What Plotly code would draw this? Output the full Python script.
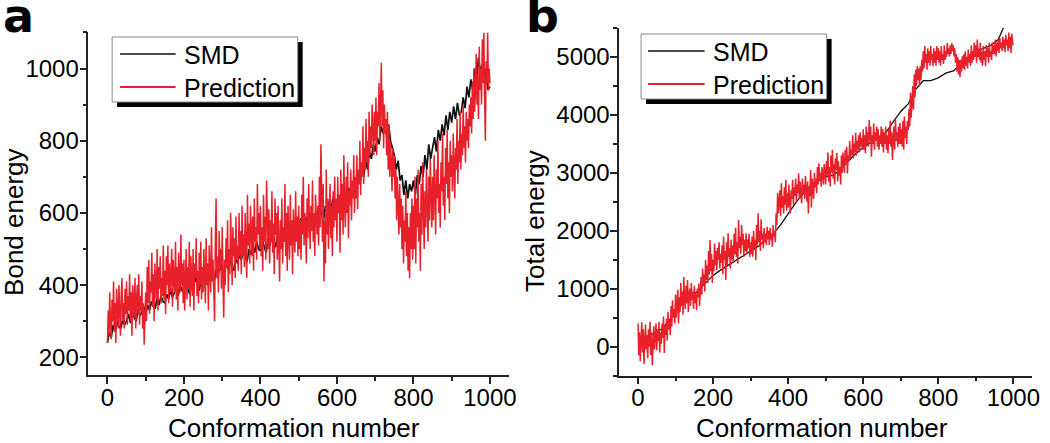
import plotly.graph_objs as go

W, H = 1050, 443

#### Data ##############################################################
# SMD bond energy, every 5th conformation
conf = list(range(0, 1001, 5))
bond_smd = [
    240, 270, 255, 290, 270, 300, 285, 280, 305, 290,
    300, 320, 295, 330, 310, 300, 335, 315, 325, 340,
    320, 345, 330, 355, 340, 335, 365, 345, 370, 355,
    350, 375, 360, 390, 365, 380, 395, 370, 400, 385,
    380, 405, 390, 375, 410, 395, 420, 400, 385, 415,
    405, 425, 410, 440, 420, 435, 415, 445, 430, 455,
    440, 430, 460, 445, 470, 450, 440, 475, 460, 485,
    470, 495, 480, 465, 500, 485, 510, 490, 520, 500,
    495, 525, 505, 490, 530, 510, 540, 520, 505, 545,
    530, 555, 535, 520, 560, 545, 570, 550, 580, 560,
    555, 585, 565, 545, 590, 570, 600, 580, 560, 600,
    590, 615, 595, 580, 620, 600, 635, 610, 645, 620,
    615, 650, 630, 665, 640, 625, 670, 650, 685, 660,
    670, 700, 680, 720, 700, 745, 720, 770, 750, 790,
    770, 810, 790, 840, 820, 860, 810, 845, 800, 780,
    760, 720, 745, 690, 705, 650, 690, 640, 680, 660,
    690, 650, 705, 680, 730, 700, 760, 720, 790, 750,
    780, 810, 770, 830, 800, 845, 815, 870, 830, 880,
    850, 895, 860, 905, 870, 880, 920, 890, 950, 920,
    970, 940, 1000, 970, 1030, 990, 1010, 960, 1000, 940,
    950,
]

# predictions are much noisier: every 2nd conformation
conf_fine = list(range(0, 1001, 2))
bond_pred = [
    240, 330, 260, 380, 290, 250, 360, 300, 410, 270, 350, 240, 390, 310, 280, 400, 330, 260, 370, 420, 300, 350, 280, 390, 320,
    410, 290, 370, 330, 430, 300, 380, 260, 400, 350, 310, 420, 280, 360, 400, 320, 430, 290, 370, 330, 410, 280, 350, 235, 330,
    380, 300, 450, 350, 470, 320, 410, 380, 490, 340, 430, 300, 460, 400, 360, 500, 330, 450, 390, 480, 350, 420, 370, 510, 360,
    440, 320, 480, 400, 510, 350, 460, 380, 430, 500, 340, 470, 410, 380, 520, 360, 450, 330, 490, 420, 380, 540, 400, 460, 350,
    470, 330, 420, 500, 360, 450, 390, 520, 340, 480, 410, 370, 500, 330, 460, 420, 530, 370, 440, 350, 490, 400, 520, 360, 450,
    380, 500, 420, 350, 530, 400, 460, 330, 510, 440, 380, 560, 410, 470, 350, 300, 520, 640, 420, 480, 380, 550, 440, 500, 390,
    560, 420, 310, 470, 400, 530, 450, 580, 380, 500, 430, 600, 460, 400, 560, 480, 530, 420, 590, 470, 510, 440, 600, 480, 550,
    430, 620, 480, 540, 450, 600, 500, 420, 650, 510, 570, 460, 620, 530, 480, 590, 440, 640, 520, 560, 470, 680, 540, 600, 500,
    620, 480, 560, 440, 650, 520, 590, 470, 690, 540, 500, 610, 460, 580, 520, 660, 490, 570, 430, 640, 540, 600, 470, 620, 520,
    410, 580, 500, 640, 460, 560, 520, 680, 480, 600, 440, 620, 530, 470, 650, 510, 580, 430, 610, 540, 490, 660, 520, 590, 480,
    620, 500, 580, 470, 650, 540, 700, 510, 600, 560, 460, 640, 530, 680, 570, 500, 620, 550, 690, 520, 600, 480, 650, 580, 540,
    620, 510, 700, 560, 790, 600, 520, 680, 410, 580, 460, 720, 540, 640, 500, 600, 680, 530, 620, 480, 660, 560, 700, 580, 640,
    520, 700, 600, 650, 490, 720, 580, 680, 540, 760, 620, 560, 700, 600, 740, 530, 660, 620, 720, 580, 690, 640, 760, 600, 700,
    640, 760, 610, 720, 680, 800, 650, 740, 700, 840, 680, 780, 720, 860, 740, 800, 700, 880, 760, 840, 780, 900, 820, 760, 880,
    800, 920, 760, 880, 840, 960, 800, 900, 1016, 840, 940, 780, 900, 820, 860, 760, 880, 720, 840, 700, 800, 740, 660, 780, 700,
    760, 640, 720, 580, 700, 620, 540, 680, 560, 640, 500, 620, 460, 580, 520, 660, 480, 600, 440, 560, 420, 600, 500, 640, 470,
    620, 500, 700, 460, 640, 560, 720, 520, 600, 440, 680, 540, 740, 580, 500, 660, 560, 720, 600, 520, 700, 580, 750, 620, 560,
    700, 580, 760, 620, 540, 720, 640, 800, 600, 680, 560, 740, 660, 820, 620, 700, 580, 780, 680, 830, 640, 740, 600, 800, 700,
    760, 660, 820, 700, 640, 780, 720, 860, 680, 800, 740, 880, 720, 820, 760, 900, 780, 840, 740, 880, 800, 860, 780, 900, 840,
    920, 820, 960, 860, 1000, 880, 940, 1040, 900, 980, 860, 1060, 940, 1000, 900, 1080, 960, 1100, 920, 800, 1020, 960, 1100, 940, 1000,
    960,
]

total_pred = [
    400, -150, 250, -250, 100, 420, -100, 300, -300, 150, 380, -50, 200, -200, 300, 0, 430, -150, 250, -320, 100, 350, -50, 200, 400,
    -60, 300, 100, 430, -100, 250, 50, 400, 150, 520, -110, 350, 200, 480, 100, 600, 300, 450, 200, 700, 350, 800, 500, 650, 400,
    900, 500, 750, 980, 400, 850, 600, 1100, 700, 950, 550, 1200, 800, 650, 1050, 750, 1150, 600, 900, 1000, 700, 1100, 800, 950, 650,
    1050, 750, 900, 630, 1000, 850, 1090, 700, 950, 1200, 900, 1350, 1050, 1250, 950, 1500, 1150, 1400, 1100, 1650, 1250, 1840, 1300, 1600, 1100,
    1500, 1300, 1780, 1400, 1650, 1320, 1700, 1500, 1800, 1350, 1600, 1450, 1750, 1250, 1900, 1500, 1650, 1150, 1800, 1400, 1955, 1550, 1700, 1350, 1850,
    1500, 1750, 1450, 1950, 1600, 2050, 1550, 1800, 1430, 2185, 1700, 1900, 1600, 2100, 1750, 1950, 1550, 1850, 1650, 1955, 1600, 1850, 1700, 1950, 1550,
    1800, 1600, 1900, 1550, 2000, 1700, 1850, 1490, 2100, 1750, 2300, 1800, 2000, 1650, 2200, 1850, 1950, 1700, 2050, 1800, 1950, 1750, 2070, 1850, 2000,
    1750, 2050, 1850, 1950, 1725, 2100, 1900, 2000, 1800, 2300, 2100, 2650, 2300, 2500, 2700, 2250, 2820, 2400, 2600, 2300, 2750, 2450, 2880, 2350, 2650,
    2400, 2800, 2500, 2300, 2700, 2550, 2880, 2450, 2750, 2600, 2900, 2500, 2800, 2650, 2990, 2550, 2850, 2700, 2475, 2900, 2650, 2800, 2550, 2950, 2700,
    2500, 2850, 2300, 2750, 2600, 3050, 2400, 2900, 2700, 2550, 3000, 2750, 2900, 2650, 3100, 2800, 3165, 2850, 3000, 2760, 3100, 2900, 2800, 3150, 2950,
    2800, 3200, 2950, 3350, 2850, 3100, 2764, 3300, 3000, 3400, 2900, 3150, 2800, 3250, 3050, 3340, 2850, 3200, 2950, 3100, 2800, 3300, 3000, 3350, 3100,
    3000, 3400, 3150, 3450, 2990, 3300, 3200, 3550, 3250, 3400, 3300, 3650, 3250, 3500, 3350, 3690, 3300, 3550, 3400, 3650, 3350, 3700, 3450, 3600, 3400,
    3750, 3400, 3650, 3340, 3800, 3500, 3700, 3450, 3915, 3550, 3800, 3280, 3650, 3500, 3850, 3400, 3700, 3550, 3800, 3450, 3750, 3400, 3650, 3500, 3800,
    3450, 3750, 3350, 3700, 3500, 3800, 3400, 3650, 3340, 3750, 3500, 3900, 3450, 3700, 3224, 3600, 3800, 3400, 3915, 3550, 3700, 3450, 3800, 3500, 3860,
    3500, 3750, 3450, 3900, 3400, 3970, 3600, 3800, 3500, 3900, 3740, 4100, 3800, 4380, 3950, 4250, 4500, 4090, 4700, 4300, 4780, 4500, 4840, 4600, 4800,
    4490, 4840, 4600, 4950, 4750, 5100, 4800, 5190, 4900, 5050, 4780, 5150, 4900, 5100, 4850, 5190, 4950, 5050, 4840, 5150, 4900, 5100, 4850, 5190, 4950,
    5150, 4900, 5100, 4850, 5190, 4950, 5050, 4880, 5200, 4950, 5100, 5000, 5240, 5050, 5150, 5010, 5200, 5050, 5240, 5100, 5200, 5010, 5150, 4900, 5050,
    4750, 5000, 4700, 4950, 4650, 4950, 4750, 5010, 4800, 5050, 4780, 5100, 4850, 5000, 4800, 5130, 4900, 5050, 4850, 5200, 4900, 5100, 4950, 5250, 5000,
    5200, 4900, 5300, 5000, 5150, 4950, 5250, 4900, 5100, 4850, 5190, 4950, 5100, 4840, 5200, 5000, 5150, 4900, 5250, 5000, 5100, 4950, 5250, 5050, 5200,
    5050, 5300, 5010, 5250, 5100, 5300, 5070, 5330, 5150, 5250, 5100, 5350, 5150, 5300, 5080, 5380, 5200, 5300, 5100, 5420, 5150, 5350, 5070, 5400, 5250,
    5200,
]

# SMD total energy is smooth, so a coarser grid is enough
total_smd_conf = [0, 20, 40, 60, 80, 100, 120, 140, 160, 180, 200, 220, 240,
                  260, 280, 300, 320, 340, 360, 380, 400, 420, 440, 460, 480,
                  500, 520, 540, 560, 580, 600, 620, 640, 660, 680, 700, 720,
                  740, 760, 780, 800, 820, 840, 860, 880, 900, 920, 940, 960,
                  980]
total_smd = [150, 170, 220, 290, 420, 620, 740, 850, 960, 1100, 1230, 1320,
             1400, 1480, 1560, 1640, 1730, 1840, 1950, 2100, 2300, 2480, 2640,
             2780, 2880, 2930, 2960, 3060, 3200, 3330, 3440, 3520, 3600, 3690,
             3880, 4060, 4190, 4440, 4590, 4590, 4640, 4720, 4760, 4880, 5000,
             5080, 5150, 5200, 5300, 5600]

RED = "#e8202a"
BLACK = "#111111"
FONT = "Liberation Sans, Arial, sans-serif"


def px(x):
    return x / W


def py(y):
    return 1 - y / H


#### Create graphs #####################################################
fig = go.Figure()

fig.add_trace(go.Scatter(x=conf, y=bond_smd, mode="lines", name="SMD",
                         line=dict(color=BLACK, width=1.7),
                         xaxis="x", yaxis="y"))
fig.add_trace(go.Scatter(x=conf_fine, y=bond_pred, mode="lines",
                         name="Prediction", line=dict(color=RED, width=1.5),
                         xaxis="x", yaxis="y"))
fig.add_trace(go.Scatter(x=total_smd_conf, y=total_smd, mode="lines",
                         name="SMD", line=dict(color=BLACK, width=1.3),
                         xaxis="x2", yaxis="y2"))
fig.add_trace(go.Scatter(x=conf_fine, y=total_pred, mode="lines",
                         name="Prediction", line=dict(color=RED, width=1.5),
                         xaxis="x2", yaxis="y2"))

axis_style = dict(
    showline=True, linecolor="#222", linewidth=1.5,
    ticks="outside", ticklen=7, tickwidth=1.5, tickcolor="#222",
    showgrid=False, zeroline=False,
    tickfont=dict(family=FONT, size=24, color="black"),
)
minor_style = dict(ticklen=4, ticks="outside", tickcolor="#222", tickwidth=1.5)

fig.update_layout(
    width=W, height=H,
    margin=dict(l=0, r=0, t=0, b=0),
    paper_bgcolor="white", plot_bgcolor="white",
    showlegend=False,
    font=dict(family=FONT, color="black"),
    xaxis=dict(domain=[px(89), px(513)], range=[-50, 1050], anchor="y",
               tickvals=[0, 200, 400, 600, 800, 1000], ticklabelstandoff=-7,
               minor=dict(dtick=100, **minor_style), **axis_style),
    yaxis=dict(domain=[py(375.4), py(32.4)], range=[150, 1100], anchor="x",
               tickvals=[200, 400, 600, 800, 1000], ticklabelstandoff=-4,
               minor=dict(dtick=100, **minor_style), **axis_style),
    xaxis2=dict(domain=[px(624), px(1040)], range=[-50, 1050], anchor="y2",
                tickvals=[0, 200, 400, 600, 800, 1000], ticklabelstandoff=-7,
                minor=dict(dtick=100, **minor_style), **axis_style),
    yaxis2=dict(domain=[py(375.6), py(28)], range=[-500, 5500], anchor="x2",
                tickvals=[0, 1000, 2000, 3000, 4000, 5000],
                ticklabelstandoff=-4,
                minor=dict(dtick=500, **minor_style), **axis_style),
)

# Axis titles and panel letters
notes = [
    dict(text="Conformation number", x=px(296), y=py(428), size=26),
    dict(text="Conformation number", x=px(828), y=py(428), size=26),
    dict(text="Bond energy", x=px(14), y=py(222), size=26, angle=-90),
    dict(text="Total energy", x=px(539), y=py(221), size=26, angle=-90),
]
for n in notes:
    fig.add_annotation(text=n["text"], x=n["x"], y=n["y"], xref="paper",
                       yref="paper", showarrow=False, textangle=n.get("angle", 0),
                       xanchor="center", yanchor="middle",
                       font=dict(family=FONT, size=n["size"], color="black"))

for letter, x in [("a", 1), ("b", 528)]:
    fig.add_annotation(text="<b>%s</b>" % letter, x=px(x), y=py(-13),
                       xref="paper", yref="paper", showarrow=False,
                       xanchor="left", yanchor="top",
                       font=dict(family="DejaVu Sans", size=46, color="black"))

# Framed legends with drop shadow, one per panel
for (bx, by), (lx0, lx1), tx in [((113, 37), (121, 177), 183),
                                  ((646, 34), (653, 710), 716)]:
    bw, bh = 187, 65
    fig.add_shape(type="rect", xref="paper", yref="paper",
                  x0=px(bx + 5), x1=px(bx + bw + 5),
                  y0=py(by + bh + 5), y1=py(by + 5),
                  fillcolor="black", line=dict(width=0), layer="above")
    fig.add_shape(type="rect", xref="paper", yref="paper",
                  x0=px(bx), x1=px(bx + bw), y0=py(by + bh), y1=py(by),
                  fillcolor="white", line=dict(color="#888", width=1),
                  layer="above")
    for (label, color, width), dy in [(("SMD", BLACK, 1.5), 17),
                                      (("Prediction", RED, 2), 50)]:
        fig.add_shape(type="line", xref="paper", yref="paper",
                      x0=px(lx0), x1=px(lx1), y0=py(by + dy), y1=py(by + dy),
                      line=dict(color=color, width=width), layer="above")
        fig.add_annotation(text=label, x=px(tx), y=py(by + dy + 1),
                           xref="paper", yref="paper", showarrow=False,
                           xanchor="left", yanchor="middle",
                           font=dict(family=FONT, size=25, color="black"))

# the page body has a default 8px margin; drop it so the figure fills the window
fig.write_html("out.html", config={"displayModeBar": False},
               post_script="document.body.style.margin='0';")
